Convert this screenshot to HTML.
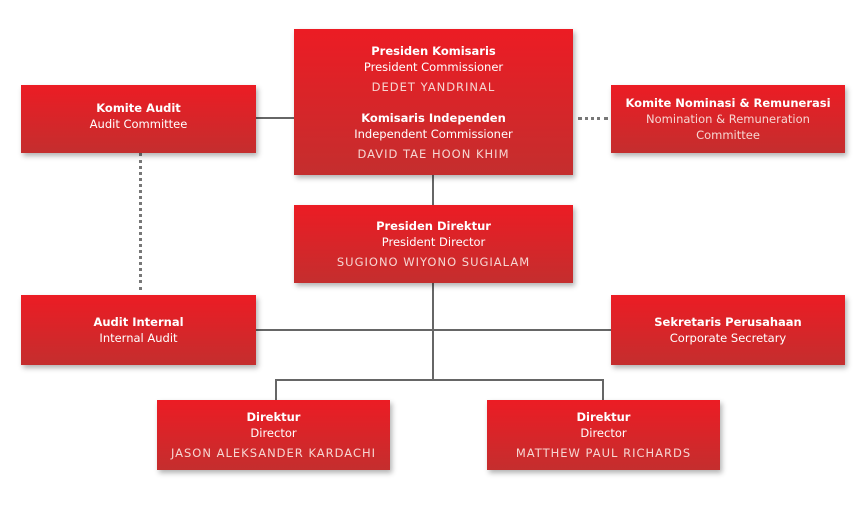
<!DOCTYPE html>
<html><head><style>
body{margin:0;width:867px;height:505px;background:#fff;position:relative;overflow:hidden;font-family:"DejaVu Sans","Liberation Sans",sans-serif;}
.b{position:absolute;background:linear-gradient(#ec1c24,#c42e2e);box-shadow:2px 3px 5px rgba(0,0,0,.3);color:#fff;text-align:center;font-size:11.5px;line-height:16px;display:flex;flex-direction:column;justify-content:center;}
.b b{font-size:11.5px}
.n{color:#f6d6d2;letter-spacing:1px;font-size:11.5px;margin-top:4px}
.l{position:absolute;background:#666;}
.d{position:absolute;}
</style></head><body>
<div class="l" style="left:256px;top:117px;width:38px;height:2px"></div>
<div class="d" style="left:578px;top:117px;width:30px;height:0;border-top:3px dotted #777"></div>
<div class="d" style="left:139px;top:153px;width:0;height:137px;border-left:3px dotted #777"></div>
<div class="l" style="left:432px;top:175px;width:2px;height:30px"></div>
<div class="l" style="left:432px;top:283px;width:2px;height:98px"></div>
<div class="l" style="left:256px;top:329px;width:355px;height:2px"></div>
<div class="l" style="left:275px;top:379px;width:329px;height:2px"></div>
<div class="l" style="left:275px;top:379px;width:2px;height:21px"></div>
<div class="l" style="left:602px;top:379px;width:2px;height:21px"></div>

<div class="b" style="left:294px;top:29px;width:279px;height:146px">
<b>Presiden Komisaris</b><div>President Commissioner</div><div class="n">DEDET YANDRINAL</div>
<div style="height:15px"></div>
<b>Komisaris Independen</b><div>Independent Commissioner</div><div class="n">DAVID TAE HOON KHIM</div></div>
<div class="b" style="left:21px;top:85px;width:235px;height:68px"><div style="margin-top:-6px"><b>Komite Audit</b><div>Audit Committee</div></div></div>
<div class="b" style="left:611px;top:85px;width:234px;height:68px"><b>Komite Nominasi &amp; Remunerasi</b><div style="color:#f6d6d2">Nomination &amp; Remuneration<br>Committee</div></div>
<div class="b" style="left:294px;top:205px;width:279px;height:78px"><b>Presiden Direktur</b><div>President Director</div><div class="n">SUGIONO WIYONO SUGIALAM</div></div>
<div class="b" style="left:21px;top:295px;width:235px;height:70px"><b>Audit Internal</b><div>Internal Audit</div></div>
<div class="b" style="left:611px;top:295px;width:234px;height:70px"><b>Sekretaris Perusahaan</b><div>Corporate Secretary</div></div>
<div class="b" style="left:157px;top:400px;width:233px;height:70px"><b>Direktur</b><div>Director</div><div class="n">JASON ALEKSANDER KARDACHI</div></div>
<div class="b" style="left:487px;top:400px;width:233px;height:70px"><b>Direktur</b><div>Director</div><div class="n">MATTHEW PAUL RICHARDS</div></div>
</body></html>
